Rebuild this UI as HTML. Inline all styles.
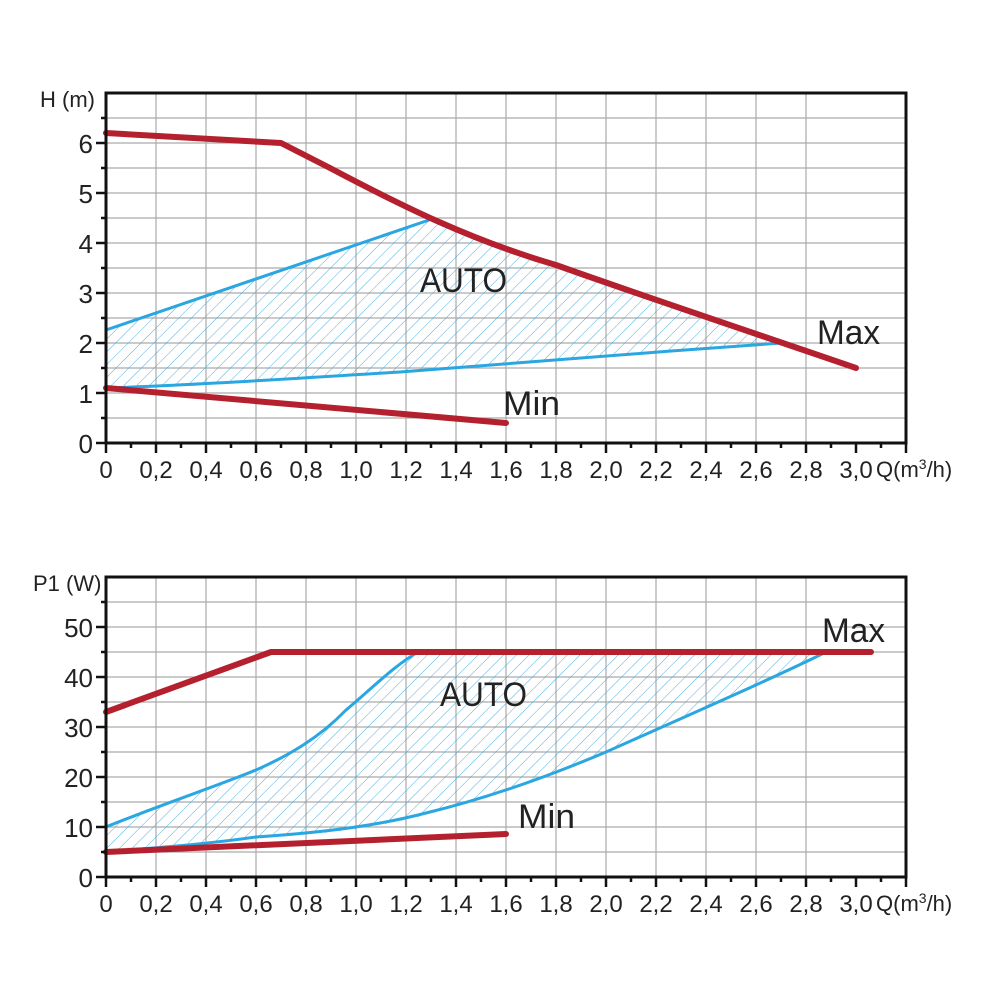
<!DOCTYPE html>
<html><head><meta charset="utf-8"><style>
html,body{margin:0;padding:0;background:#fff}
svg{display:block}
text{font-family:"Liberation Sans",sans-serif;fill:#222}
</style></head><body>
<svg width="1000" height="1000" viewBox="0 0 1000 1000" xmlns="http://www.w3.org/2000/svg">
<defs>
<pattern id="h" patternUnits="userSpaceOnUse" width="9" height="9" patternTransform="rotate(45)">
<line x1="0" y1="0" x2="0" y2="9" stroke="#3aa8dd" stroke-width="0.9"/>
</pattern>
</defs>

<!-- ===== TOP CHART ===== -->
<g stroke="#aaa" stroke-width="1.2">
<line x1="156" y1="93" x2="156" y2="443"/><line x1="206" y1="93" x2="206" y2="443"/>
<line x1="256" y1="93" x2="256" y2="443"/><line x1="306" y1="93" x2="306" y2="443"/>
<line x1="356" y1="93" x2="356" y2="443"/><line x1="406" y1="93" x2="406" y2="443"/>
<line x1="456" y1="93" x2="456" y2="443"/><line x1="506" y1="93" x2="506" y2="443"/>
<line x1="556" y1="93" x2="556" y2="443"/><line x1="606" y1="93" x2="606" y2="443"/>
<line x1="656" y1="93" x2="656" y2="443"/><line x1="706" y1="93" x2="706" y2="443"/>
<line x1="756" y1="93" x2="756" y2="443"/><line x1="806" y1="93" x2="806" y2="443"/>
<line x1="106" y1="118" x2="906" y2="118"/><line x1="106" y1="143" x2="906" y2="143"/>
<line x1="106" y1="168" x2="906" y2="168"/><line x1="106" y1="193" x2="906" y2="193"/>
<line x1="106" y1="218" x2="906" y2="218"/><line x1="106" y1="243" x2="906" y2="243"/>
<line x1="106" y1="268" x2="906" y2="268"/><line x1="106" y1="293" x2="906" y2="293"/>
<line x1="106" y1="318" x2="906" y2="318"/><line x1="106" y1="343" x2="906" y2="343"/>
<line x1="106" y1="368" x2="906" y2="368"/><line x1="106" y1="393" x2="906" y2="393"/>
<line x1="106" y1="418" x2="906" y2="418"/>
</g>
<!-- hatch area top -->
<path d="M106,330 L432,219 C480,238 520,255 556,266 C620,290 690,315 781,343 C700,350 600,358 500,365 C400,373 250,382 106,388 Z" fill="url(#h)"/>
<path d="M106,330 L432,219" stroke="#2aa6e0" stroke-width="3" fill="none"/>
<path d="M106,388 C200,385 300,378 400,372 C500,365 650,352 781,343" stroke="#2aa6e0" stroke-width="3" fill="none"/>
<!-- red curves -->
<path d="M106,133 L281,143 L330,168 C400,205 470,240 556,265 C640,295 760,335 856,368" stroke="#b5202e" stroke-width="6" fill="none" stroke-linecap="round" stroke-linejoin="round"/>
<path d="M106,388 L506,423" stroke="#b5202e" stroke-width="6" fill="none" stroke-linecap="round"/>
<!-- frame -->
<rect x="106" y="93" width="800" height="350" fill="none" stroke="#111" stroke-width="3"/>
<g stroke="#111" stroke-width="2.5">
<line x1="96" y1="143" x2="106" y2="143"/><line x1="96" y1="193" x2="106" y2="193"/>
<line x1="96" y1="243" x2="106" y2="243"/><line x1="96" y1="293" x2="106" y2="293"/>
<line x1="96" y1="343" x2="106" y2="343"/><line x1="96" y1="393" x2="106" y2="393"/>
<line x1="96" y1="443" x2="106" y2="443"/>
<line x1="101" y1="118" x2="106" y2="118"/><line x1="101" y1="168" x2="106" y2="168"/>
<line x1="101" y1="218" x2="106" y2="218"/><line x1="101" y1="268" x2="106" y2="268"/>
<line x1="101" y1="318" x2="106" y2="318"/><line x1="101" y1="368" x2="106" y2="368"/>
<line x1="101" y1="418" x2="106" y2="418"/>
</g>
<g stroke="#111" stroke-width="2.5">
<path d="M106,443v10M156,443v10M206,443v10M256,443v10M306,443v10M356,443v10M406,443v10M456,443v10M506,443v10M556,443v10M606,443v10M656,443v10M706,443v10M756,443v10M806,443v10M856,443v10M906,443v10"/>
<path d="M131,443v5M181,443v5M231,443v5M281,443v5M331,443v5M381,443v5M431,443v5M481,443v5M531,443v5M581,443v5M631,443v5M681,443v5M731,443v5M781,443v5M831,443v5M881,443v5"/>
</g>
<g font-size="26" text-anchor="end">
<text x="93" y="153">6</text><text x="93" y="203">5</text><text x="93" y="253">4</text>
<text x="93" y="303">3</text><text x="93" y="353">2</text><text x="93" y="403">1</text><text x="93" y="453">0</text>
</g>
<text x="40" y="107" font-size="22">H (m)</text>
<g font-size="24" text-anchor="middle">
<text x="106" y="478">0</text><text x="156" y="478">0,2</text><text x="206" y="478">0,4</text><text x="256" y="478">0,6</text>
<text x="306" y="478">0,8</text><text x="356" y="478">1,0</text><text x="406" y="478">1,2</text><text x="456" y="478">1,4</text>
<text x="506" y="478">1,6</text><text x="556" y="478">1,8</text><text x="606" y="478">2,0</text><text x="656" y="478">2,2</text>
<text x="706" y="478">2,4</text><text x="756" y="478">2,6</text><text x="806" y="478">2,8</text><text x="856" y="478">3,0</text>
</g>
<text x="876" y="477" font-size="22">Q(m<tspan font-size="14" dy="-8">3</tspan><tspan dy="8">/h)</tspan></text>
<text x="420" y="292" font-size="34" textLength="87" lengthAdjust="spacingAndGlyphs">AUTO</text>
<text x="817" y="344" font-size="34" textLength="63" lengthAdjust="spacingAndGlyphs">Max</text>
<text x="503" y="415" font-size="34" textLength="57" lengthAdjust="spacingAndGlyphs">Min</text>

<!-- ===== BOTTOM CHART ===== -->
<g stroke="#aaa" stroke-width="1.2">
<line x1="156" y1="577" x2="156" y2="877"/><line x1="206" y1="577" x2="206" y2="877"/>
<line x1="256" y1="577" x2="256" y2="877"/><line x1="306" y1="577" x2="306" y2="877"/>
<line x1="356" y1="577" x2="356" y2="877"/><line x1="406" y1="577" x2="406" y2="877"/>
<line x1="456" y1="577" x2="456" y2="877"/><line x1="506" y1="577" x2="506" y2="877"/>
<line x1="556" y1="577" x2="556" y2="877"/><line x1="606" y1="577" x2="606" y2="877"/>
<line x1="656" y1="577" x2="656" y2="877"/><line x1="706" y1="577" x2="706" y2="877"/>
<line x1="756" y1="577" x2="756" y2="877"/><line x1="806" y1="577" x2="806" y2="877"/>
<line x1="106" y1="602" x2="906" y2="602"/><line x1="106" y1="627" x2="906" y2="627"/>
<line x1="106" y1="652" x2="906" y2="652"/><line x1="106" y1="677" x2="906" y2="677"/>
<line x1="106" y1="702" x2="906" y2="702"/><line x1="106" y1="727" x2="906" y2="727"/>
<line x1="106" y1="752" x2="906" y2="752"/><line x1="106" y1="777" x2="906" y2="777"/>
<line x1="106" y1="802" x2="906" y2="802"/><line x1="106" y1="827" x2="906" y2="827"/>
<line x1="106" y1="852" x2="906" y2="852"/>
</g>
<path d="M106,827 C160,805 220,785 256,770 C290,755 320,737 346,710 C370,690 395,665 418,652 L826,652 C780,675 700,710 606,752 C540,780 480,800 426,815 C380,827 330,835 256,837 C200,845 150,848 106,852 Z" fill="url(#h)"/>
<path d="M106,827 C160,805 220,785 256,770 C290,755 320,737 346,710 C370,690 395,665 418,652" stroke="#2aa6e0" stroke-width="3" fill="none"/>
<path d="M106,852 C150,848 200,845 256,837 C330,832 380,825 426,813 C480,800 540,780 606,752 C700,710 780,675 826,652" stroke="#2aa6e0" stroke-width="3" fill="none"/>
<path d="M106,712 L271,652 L871,652" stroke="#b5202e" stroke-width="6" fill="none" stroke-linecap="round" stroke-linejoin="round"/>
<path d="M106,852 L506,834" stroke="#b5202e" stroke-width="6" fill="none" stroke-linecap="round"/>
<rect x="106" y="577" width="800" height="300" fill="none" stroke="#111" stroke-width="3"/>
<g stroke="#111" stroke-width="2.5">
<line x1="96" y1="627" x2="106" y2="627"/><line x1="96" y1="677" x2="106" y2="677"/>
<line x1="96" y1="727" x2="106" y2="727"/><line x1="96" y1="777" x2="106" y2="777"/>
<line x1="96" y1="827" x2="106" y2="827"/><line x1="96" y1="877" x2="106" y2="877"/>
<line x1="101" y1="602" x2="106" y2="602"/><line x1="101" y1="652" x2="106" y2="652"/>
<line x1="101" y1="702" x2="106" y2="702"/><line x1="101" y1="752" x2="106" y2="752"/>
<line x1="101" y1="802" x2="106" y2="802"/><line x1="101" y1="852" x2="106" y2="852"/>
</g>
<g stroke="#111" stroke-width="2.5">
<path d="M106,877v10M156,877v10M206,877v10M256,877v10M306,877v10M356,877v10M406,877v10M456,877v10M506,877v10M556,877v10M606,877v10M656,877v10M706,877v10M756,877v10M806,877v10M856,877v10M906,877v10"/>
<path d="M131,877v5M181,877v5M231,877v5M281,877v5M331,877v5M381,877v5M431,877v5M481,877v5M531,877v5M581,877v5M631,877v5M681,877v5M731,877v5M781,877v5M831,877v5M881,877v5"/>
</g>
<g font-size="26" text-anchor="end">
<text x="93" y="637">50</text><text x="93" y="687">40</text><text x="93" y="737">30</text>
<text x="93" y="787">20</text><text x="93" y="837">10</text><text x="93" y="887">0</text>
</g>
<text x="33" y="591" font-size="22">P1 (W)</text>
<g font-size="24" text-anchor="middle">
<text x="106" y="912">0</text><text x="156" y="912">0,2</text><text x="206" y="912">0,4</text><text x="256" y="912">0,6</text>
<text x="306" y="912">0,8</text><text x="356" y="912">1,0</text><text x="406" y="912">1,2</text><text x="456" y="912">1,4</text>
<text x="506" y="912">1,6</text><text x="556" y="912">1,8</text><text x="606" y="912">2,0</text><text x="656" y="912">2,2</text>
<text x="706" y="912">2,4</text><text x="756" y="912">2,6</text><text x="806" y="912">2,8</text><text x="856" y="912">3,0</text>
</g>
<text x="876" y="911" font-size="22">Q(m<tspan font-size="14" dy="-8">3</tspan><tspan dy="8">/h)</tspan></text>
<text x="440" y="706" font-size="34" textLength="87" lengthAdjust="spacingAndGlyphs">AUTO</text>
<text x="822" y="642" font-size="34" textLength="63" lengthAdjust="spacingAndGlyphs">Max</text>
<text x="518" y="828" font-size="34" textLength="57" lengthAdjust="spacingAndGlyphs">Min</text>
</svg>
</body></html>
